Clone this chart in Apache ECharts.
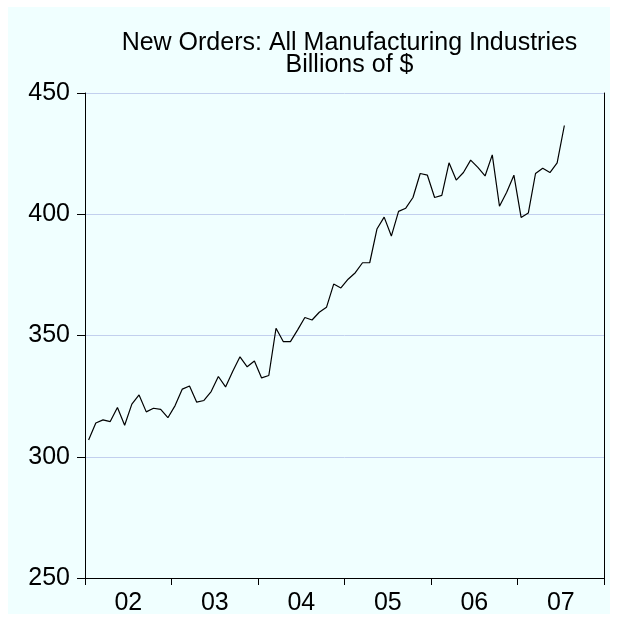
<!DOCTYPE html>
<html><head><meta charset="utf-8">
<script src="https://cdn.jsdelivr.net/npm/echarts@6/dist/echarts.min.js"></script>
<style>html,body{margin:0;padding:0;background:#fff}#c{width:618px;height:621px}</style>
</head><body><div id="c"></div>
<script>
const titleLines = ['New Orders: All Manufacturing Industries', 'Billions of $'];
const years = ['02', '03', '04', '05', '06', '07'];
const yMin = 250, yMax = 450, yStep = 50;
const orders2002 = [306.9, 313.9, 315.2, 314.5, 320.3, 313.0, 321.7, 325.5, 318.5, 320.0, 319.5, 316.1];
const orders2003 = [321.1, 327.9, 329.2, 322.5, 323.2, 326.9, 333.1, 328.8, 335.3, 341.2, 337.1, 339.5];
const orders2004 = [332.5, 333.5, 353.0, 347.5, 347.5, 352.3, 357.4, 356.4, 359.6, 361.6, 371.2, 369.6];
const orders2005 = [373.2, 375.9, 380.0, 380.0, 393.9, 398.8, 391.0, 401.2, 402.5, 406.9, 416.8, 416.1];
const orders2006 = [406.9, 407.8, 421.2, 414.1, 417.2, 422.3, 419.3, 415.8, 424.5, 403.3, 409.1, 416.1];
const orders2007 = [398.7, 400.5, 416.8, 419.0, 417.2, 421.2, 436.6];

const orders = [].concat(orders2002, orders2003, orders2004, orders2005, orders2006, orders2007);
const months = [];
years.forEach(y => { for (let m = 1; m <= 12; m++) months.push('20' + y + '-' + String(m).padStart(2, '0')); });

const FONT = 'Liberation Sans, Arial, Helvetica, sans-serif';
const FS = 25;
const chart = echarts.init(document.getElementById('c'), null, {renderer: 'canvas'});
chart.setOption({
  backgroundColor: '#ffffff',
  animation: false,
  graphic: [{
    type: 'rect', z: -100, silent: true,
    shape: {x: 8, y: 7, width: 602, height: 607},
    style: {fill: '#F0FFFF'}
  }],
  title: {
    text: titleLines.join('\n'),
    left: 344.5, top: 27, textAlign: 'center',
    textStyle: {fontFamily: FONT, fontSize: FS, fontWeight: 'normal', color: '#000', lineHeight: 22}
  },
  grid: {left: 85, right: 14, top: 93, bottom: 43, containLabel: false},
  xAxis: {
    type: 'category', data: months, boundaryGap: true,
    axisLine: {show: true, lineStyle: {color: '#000', width: 1}},
    axisTick: {show: true, length: 7, interval: (i) => i % 12 === 0, lineStyle: {color: '#000'}},
    axisLabel: {
      show: true, interval: (i) => i % 12 === 6, margin: 13, color: '#000',
      fontFamily: FONT, fontSize: FS,
      formatter: (v) => '{a|' + v.slice(2, 4) + '}',
      rich: {a: {fontFamily: FONT, fontSize: FS, color: '#000', padding: [0, 7, 0, 0]}}
    },
    splitLine: {show: false}
  },
  yAxis: [{
    type: 'value', min: yMin, max: yMax, interval: yStep,
    axisLine: {show: true, lineStyle: {color: '#000', width: 1}},
    axisTick: {show: true, length: 8, lineStyle: {color: '#000'}},
    axisLabel: {color: '#000', fontFamily: FONT, fontSize: FS, margin: 15},
    splitLine: {show: true, lineStyle: {color: '#C2D0EE', width: 1}}
  }, {
    type: 'value', position: 'right', min: yMin, max: yMax, interval: yStep,
    axisLine: {show: true, lineStyle: {color: '#000', width: 1}},
    axisTick: {show: false}, axisLabel: {show: false}, splitLine: {show: false}
  }],
  series: [{
    type: 'line', data: orders, yAxisIndex: 0, showSymbol: false, symbol: 'none',
    lineStyle: {color: '#000', width: 1.2}, z: 5
  }]
});
</script></body></html>
